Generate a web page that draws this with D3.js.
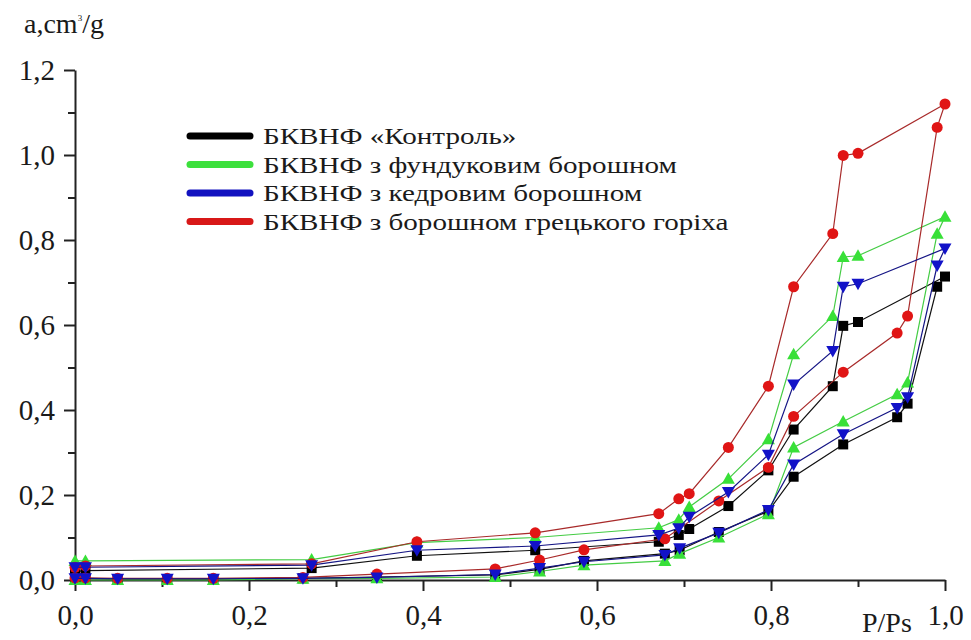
<!DOCTYPE html>
<html>
<head>
<meta charset="utf-8">
<script src="https://cdn.jsdelivr.net/npm/d3@7"></script>
<style>
  body { margin: 0; background: #fff; }
</style>
</head>
<body>
<svg width="971" height="640"></svg>
<script>
// relative pressure of the adsorption (lower) and desorption (upper) branches
var adsX = [0, 0.012, 0.049, 0.106, 0.159, 0.262, 0.347, 0.483, 0.534, 0.585, 0.678, 0.695, 0.74, 0.797, 0.826, 0.883, 0.945, 0.957, 0.991];
var desX = [1.0, 0.9, 0.883, 0.871, 0.826, 0.797, 0.751, 0.706, 0.694, 0.671, 0.529, 0.393, 0.272, 0.012, 0];

var controlAds = [0.003, 0.003, 0.002, 0.002, 0.002, 0.004, 0.007, 0.012, 0.025, 0.045, 0.062, 0.07, 0.113, 0.162, 0.243, 0.319, 0.383, 0.415, 0.69];
var controlDes = [0.714, 0.607, 0.598, 0.456, 0.354, 0.258, 0.174, 0.12, 0.106, 0.09, 0.07, 0.057, 0.028, 0.022, 0.02];

var hazelAds = [0, 0, 0, 0, 0, 0.003, 0.004, 0.007, 0.02, 0.035, 0.045, 0.062, 0.1, 0.155, 0.312, 0.373, 0.437, 0.465, 0.815];
var hazelDes = [0.855, 0.763, 0.76, 0.621, 0.531, 0.331, 0.238, 0.172, 0.142, 0.123, 0.1, 0.088, 0.048, 0.045, 0.045];

var cedarAds = [0.004, 0.004, 0.003, 0.003, 0.003, 0.004, 0.006, 0.013, 0.028, 0.043, 0.059, 0.075, 0.111, 0.165, 0.272, 0.343, 0.405, 0.43, 0.74];
var cedarDes = [0.78, 0.697, 0.69, 0.539, 0.46, 0.295, 0.207, 0.149, 0.122, 0.106, 0.08, 0.07, 0.035, 0.03, 0.03];

var walnutAds = [0.005, 0.005, 0.004, 0.004, 0.004, 0.006, 0.014, 0.026, 0.047, 0.071, 0.097, null, 0.186, 0.265, 0.385, 0.489, 0.581, 0.621, 1.065];
var walnutDes = [1.12, 1.004, 0.999, 0.815, 0.69, 0.456, 0.312, 0.203, 0.191, 0.156, 0.111, 0.09, 0.038, 0.033, 0.03];

var seriesNames = ["БКВНФ «Контроль»", "БКВНФ з фундуковим борошном", "БКВНФ з кедровим борошном", "БКВНФ з борошном грецького горіха"];

var xTicks = [0, 0.2, 0.4, 0.6, 0.8, 1.0];
var xMinor = [0.1, 0.3, 0.5, 0.7, 0.9];
var yTicks = [0, 0.2, 0.4, 0.6, 0.8, 1.0, 1.2];
var yMinor = [0.1, 0.3, 0.5, 0.7, 0.9, 1.1];

var serif = '"Liberation Serif", Tinos, "Times New Roman", serif';

function points(ads, des) {
  var res = [];
  ads.forEach(function (v, i) { if (v != null) res.push([adsX[i], v]); });
  des.forEach(function (v, i) { if (v != null) res.push([desX[i], v]); });
  return res;
}

var series = [
  { name: seriesNames[0], pts: points(controlAds, controlDes), marker: "square", fill: "#000", line: "#111" },
  { name: seriesNames[1], pts: points(hazelAds, hazelDes), marker: "up", fill: "#38e038", line: "#44cc44" },
  { name: seriesNames[3], pts: points(walnutAds, walnutDes), marker: "circle", fill: "#e01515", line: "#a82a2a" },
  { name: seriesNames[2], pts: points(cedarAds, cedarDes), marker: "down", fill: "#1212c8", line: "#151585" }
];
var legendColors = ["#000", "#3ce03c", "#1212c0", "#d81818"];

var svg = d3.select("svg");

var x = d3.scaleLinear().domain([0, 1]).range([75, 945]);
var y = d3.scaleLinear().domain([0, 1.2]).range([580, 70]);

var fmt = function (d) { return d.toFixed(1).replace(".", ","); };

// axes
svg.append("g").attr("transform", "translate(0,580)")
  .call(d3.axisBottom(x).tickValues(xTicks).tickFormat(fmt).tickSize(11).tickSizeOuter(0).tickPadding(13));
svg.append("g").attr("transform", "translate(0,580)")
  .call(d3.axisBottom(x).tickValues(xMinor).tickFormat("").tickSize(7))
  .select(".domain").remove();

svg.append("g").attr("transform", "translate(75,0)")
  .call(d3.axisLeft(y).tickValues(yTicks).tickFormat(fmt).tickSize(11).tickSizeOuter(0).tickPadding(9));
svg.append("g").attr("transform", "translate(75,0)")
  .call(d3.axisLeft(y).tickValues(yMinor).tickFormat("").tickSize(7))
  .select(".domain").remove();

svg.selectAll(".domain").attr("stroke", "#222").attr("stroke-width", 2);
svg.selectAll(".tick line").attr("stroke", "#222").attr("stroke-width", 2);
svg.selectAll(".tick text").attr("font-size", 29).attr("fill", "#222");

// axis titles
var yt = svg.append("text").attr("x", 24).attr("y", 33).attr("font-size", 28);
yt.append("tspan").text("a,cm");
yt.append("tspan").attr("font-size", 9).attr("dy", -12).text("3");
yt.append("tspan").attr("dy", 12).text("/g");

svg.append("text").attr("x", 862).attr("y", 632).attr("font-size", 28).text("P/Ps");

// series
var line = d3.line().x(function (d) { return x(d[0]); }).y(function (d) { return y(d[1]); });

series.forEach(function (s) {
  svg.append("path")
    .datum(s.pts)
    .attr("d", line)
    .attr("fill", "none")
    .attr("stroke", s.line)
    .attr("stroke-width", 1.2);

  var g = svg.append("g");
  var m = g.selectAll("path").data(s.pts).enter().append("path")
    .attr("fill", s.fill)
    .attr("transform", function (d) { return "translate(" + x(d[0]) + "," + y(d[1]) + ")"; });
  if (s.marker == "square") m.attr("d", "M-5,-5H5V5H-5Z");
  if (s.marker == "circle") m.attr("d", d3.symbol(d3.symbolCircle, 95)());
  if (s.marker == "up") m.attr("d", "M0,-6.5L6.5,5H-6.5Z");
  if (s.marker == "down") m.attr("d", "M0,6.5L6.5,-5H-6.5Z");
});

// legend
var legend = svg.append("g").selectAll("g")
  .data(seriesNames)
  .enter().append("g")
  .attr("transform", function (d, i) { return "translate(0," + (136 + i * 28.5) + ")"; });

legend.append("line")
  .attr("x1", 190).attr("x2", 250)
  .attr("stroke", function (d, i) { return legendColors[i]; })
  .attr("stroke-width", 7)
  .attr("stroke-linecap", "round");

var lt = legend.append("text")
  .attr("x", 263).attr("y", 8)
  .attr("font-size", 23)
  .text(function (d) { return d; });

svg.selectAll("text").style("font-family", serif).style("fill", "#1a1a1a");

// the reference legend text is drawn wider than the font: stretch to match
var k = 414 / lt.nodes()[1].getComputedTextLength();
lt.each(function () {
  var w = this.getComputedTextLength();
  d3.select(this).attr("textLength", w * k).attr("lengthAdjust", "spacingAndGlyphs");
});
</script>
</body>
</html>
